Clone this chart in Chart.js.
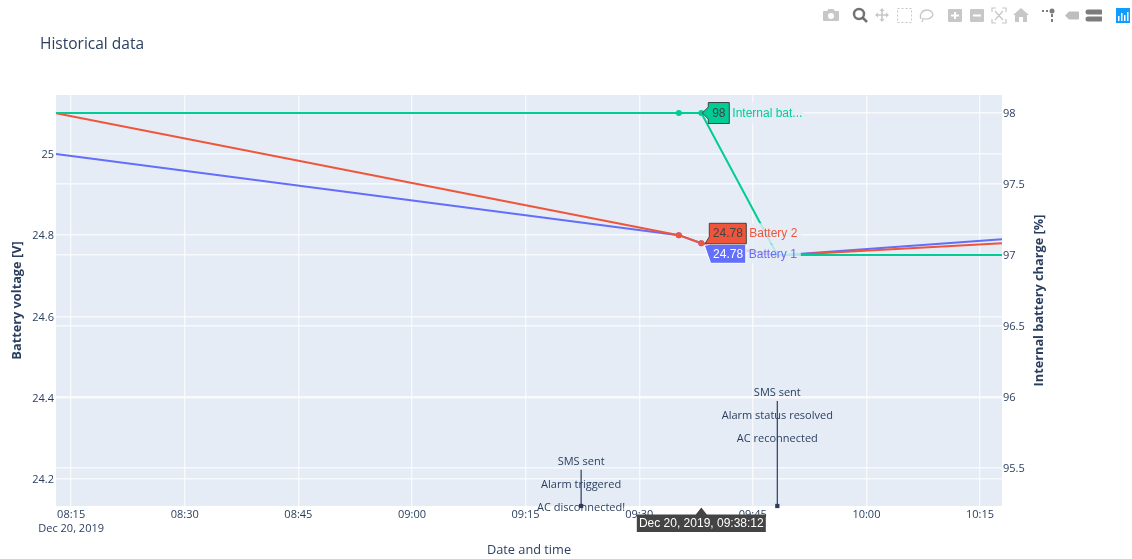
<!DOCTYPE html>
<html>
<head>
<meta charset="utf-8">
<title>Historical data</title>
<script src="https://cdn.jsdelivr.net/npm/chart.js@4"></script>
<style>
  html, body { margin: 0; padding: 0; background: #fff; overflow: hidden; }
  #wrap { position: relative; width: 1132px; height: 559px; }
  #modebar { position: absolute; left: 0; top: 0; }
</style>
</head>
<body>
<div id="wrap">
  <canvas id="historyChart" width="1132" height="559"></canvas>
  <svg id="modebar" width="1132" height="32" fill="#444" fill-opacity="0.3">
    <path d="M824 11h3l1.500-2h5l1.500 2h3a1 1 0 0 1 1 1v8a1 1 0 0 1-1 1h-14a1 1 0 0 1-1-1v-8a1 1 0 0 1 1-1zm7 2a3 3 0 1 0 0 6a3 3 0 0 0 0-6z" fill-rule="evenodd"/>
    <g fill="none" stroke="#444" stroke-opacity="0.75" stroke-width="2.500"><circle cx="859" cy="14" r="5"/><path d="M863 18l4 4"/></g>
    <path d="M882 8l2.500 3h-1.700v3.200h3.200v-1.700l3 2.500l-3 2.500v-1.700h-3.200v3.200h1.700l-2.500 3l-2.500-3h1.700v-3.200h-3.200v1.700l-3-2.500l3-2.500v1.700h3.200v-3.200h-1.700z"/>
    <rect x="897.500" y="8.500" width="14" height="14" fill="none" stroke="#444" stroke-opacity="0.3" stroke-dasharray="2 2"/>
    <path d="M921 19c-2-4 1-9 6-9s7 4 5 6.500s-6 3-9 2c0 1-.5 2.500-1 3.500" fill="none" stroke="#444" stroke-opacity="0.3" stroke-width="1.300"/>
    <path d="M949 9h12a1 1 0 0 1 1 1v11a1 1 0 0 1-1 1h-12a1 1 0 0 1-1-1v-11a1 1 0 0 1 1-1zm5 3v2.500h-3v2h3v2.500h2v-2.500h3v-2h-3v-2.500z" fill-rule="evenodd"/>
    <path d="M971 9h12a1 1 0 0 1 1 1v11a1 1 0 0 1-1 1h-12a1 1 0 0 1-1-1v-11a1 1 0 0 1 1-1zm2 5.500v2h8v-2z" fill-rule="evenodd"/>
    <g fill="none" stroke="#444" stroke-opacity="0.3" stroke-width="1.200"><path d="M992 12v-4h4M1002 8h4v4M1006 19v4h-4M996 23h-4v-4M995 11l8 9M1003 11l-8 9"/></g>
    <path d="M1021 8l8 7h-2v7h-4v-5h-4v5h-4v-7h-2z"/>
    <g fill-opacity="0.7"><circle cx="1052" cy="11" r="2.500"/><rect x="1051" y="14" width="2" height="3"/><rect x="1051" y="19" width="2" height="3"/><rect x="1042" y="10" width="2" height="2"/><rect x="1046" y="10" width="2" height="2"/></g>
    <path d="M1065 15.500l4-4h9a1 1 0 0 1 1 1v6a1 1 0 0 1-1 1h-9z" fill-opacity="0.35"/>
    <g fill-opacity="0.7"><path d="M1088 9.500h13a1 1 0 0 1 1 1v4h-14a2.500 2.500 0 0 1 0-5z"/><path d="M1088 16.500h14v4a1 1 0 0 1-1 1h-13a2.500 2.500 0 0 1 0-5z"/></g>
    <rect x="1116" y="8" width="14" height="15" fill="#119DFF" fill-opacity="1"/>
    <g fill="#fff" fill-opacity="1"><rect x="1118" y="16" width="1.500" height="5"/><rect x="1121" y="13" width="1.500" height="8"/><rect x="1124" y="15" width="1.500" height="6"/><rect x="1127" y="12" width="1.500" height="9"/></g>
  </svg>
</div>
<script>
const times = ['08:13:00', '09:35:14', '09:38:12', '09:48:14', '10:17:54'];
const battery1 = [25.0, 24.8, 24.78, 24.75, 24.79];
const battery2 = [25.1, 24.8, 24.78, 24.75, 24.78];
const internalCharge = [98, 98, 98, 97, 97];

const xTickTimes = ['08:15', '08:30', '08:45', '09:00', '09:15', '09:30', '09:45', '10:00', '10:15'];
const voltageTicks = [24.2, 24.4, 24.6, 24.8, 25];
const chargeTicks = [95.5, 96, 96.5, 97, 97.5, 98];

const alarmEvents = [
  { time: '09:22:20', top: 24.223, lines: ['SMS sent', 'Alarm triggered', 'AC disconnected!'] },
  { time: '09:48:14', top: 24.392, lines: ['SMS sent', 'Alarm status resolved', 'AC reconnected'] },
];

const X_START = '08:13:00';
const X_END = '10:17:54';
const VOLT_MIN = 24.1335;
const VOLT_MAX = 25.145;
const HOVER_INDEX = 2;
const HOVER_STAMP = 'Dec 20, 2019, 09:38:12';

const INK = '#2a3f5f';
const PLOT_BG = '#E5ECF6';
const BLUE = '#636EFA';
const RED = '#EF553B';
const TEAL = '#00CC96';
const UI_FONT = '"Open Sans", sans-serif';
const HOVER_FONT = '12px "Liberation Sans", Arial, sans-serif';

function toSeconds(t) {
  const parts = t.split(':').map(Number);
  return parts[0] * 3600 + parts[1] * 60 + (parts[2] || 0);
}

function fmtClock(sec) {
  const h = Math.floor(sec / 3600);
  const m = Math.floor(sec / 60) % 60;
  return String(h).padStart(2, '0') + ':' + String(m).padStart(2, '0');
}

function toPoints(values) {
  return values.map((v, i) => ({ x: toSeconds(times[i]), y: v }));
}

function lineSeries(label, values, color, yAxisID, order) {
  return {
    label,
    data: toPoints(values),
    borderColor: color,
    backgroundColor: color,
    borderWidth: 2,
    yAxisID,
    order,
    tension: 0,
    pointHoverRadius: 0,
    pointBorderWidth: 0,
    // plotly only shows dots on the two samples around the hover
    pointRadius: c => (c.dataIndex === 1 || c.dataIndex === 2 ? 3 : 0),
  };
}

function eventSeries(ev) {
  return {
    label: ev.lines[2],
    data: [{ x: toSeconds(ev.time), y: ev.top }, { x: toSeconds(ev.time), y: VOLT_MIN }],
    borderColor: INK,
    backgroundColor: INK,
    borderWidth: 1.2,
    yAxisID: 'y',
    order: 0,
    clip: false,
    pointStyle: 'rect',
    pointBorderWidth: 0,
    pointRadius: c => (c.dataIndex === 1 ? 3 : 0),
  };
}

const plotBgPlugin = {
  id: 'plotBg',
  beforeDraw(chart) {
    const { ctx, chartArea: a } = chart;
    ctx.save();
    ctx.fillStyle = PLOT_BG;
    ctx.fillRect(a.left, a.top, a.right - a.left, a.bottom - a.top);
    ctx.restore();
  },
};

function hoverLabel(ctx, tipX, tipY, box, fill, stroke, textColor, value, name, nameColor) {
  // pale box behind the series name
  ctx.globalAlpha = 0.8;
  ctx.fillStyle = PLOT_BG;
  ctx.fillRect(box.right, box.top, box.nameWidth, box.bottom - box.top);
  ctx.globalAlpha = 1;

  ctx.beginPath();
  ctx.moveTo(tipX, tipY);
  ctx.lineTo(box.left, box.pointerA);
  ctx.lineTo(box.left, box.top);
  ctx.lineTo(box.right, box.top);
  ctx.lineTo(box.right, box.bottom);
  ctx.lineTo(box.left, box.bottom);
  ctx.lineTo(box.left, box.pointerB);
  ctx.closePath();
  ctx.fillStyle = fill;
  ctx.fill();
  ctx.lineWidth = 1;
  ctx.strokeStyle = stroke;
  ctx.stroke();

  const midY = (box.top + box.bottom) / 2 + 0.5;
  ctx.font = HOVER_FONT;
  ctx.textBaseline = 'middle';
  ctx.textAlign = 'center';
  ctx.fillStyle = textColor;
  ctx.fillText(value, (box.left + box.right) / 2, midY);
  ctx.textAlign = 'left';
  ctx.fillStyle = nameColor;
  ctx.fillText(name, box.right + 3, midY);
}

const overlayPlugin = {
  id: 'overlay',
  afterDraw(chart) {
    const { ctx, scales, chartArea } = chart;
    const x = scales.x;
    ctx.save();

    // chart title and right axis title
    ctx.fillStyle = INK;
    ctx.font = '15.5px ' + UI_FONT;
    ctx.textAlign = 'left';
    ctx.textBaseline = 'alphabetic';
    ctx.fillText('Historical data', 40, 49);

    ctx.save();
    ctx.translate(1039.5, (chartArea.top + chartArea.bottom) / 2);
    ctx.rotate(-Math.PI / 2);
    ctx.font = 'bold 12.75px ' + UI_FONT;
    ctx.textAlign = 'center';
    ctx.textBaseline = 'middle';
    ctx.fillText('Internal battery charge [%]', 0, 0);
    ctx.restore();

    // event annotations
    ctx.font = '11px ' + UI_FONT;
    ctx.textAlign = 'center';
    ctx.textBaseline = 'middle';
    ctx.fillStyle = INK;
    alarmEvents.forEach(ev => {
      const px = x.getPixelForValue(toSeconds(ev.time));
      const topPx = scales.y.getPixelForValue(ev.top);
      ev.lines.forEach((line, i) => {
        ctx.fillText(line, px, topPx - 8 + i * 23);
      });
    });

    // hover labels
    const hx = x.getPixelForValue(toSeconds(times[HOVER_INDEX]));
    const tealY = scales.y1.getPixelForValue(internalCharge[HOVER_INDEX]);
    const batY = scales.y.getPixelForValue(battery1[HOVER_INDEX]);

    hoverLabel(ctx, hx + 1, tealY,
      { left: hx + 7, right: hx + 28, top: tealY - 10.5, bottom: tealY + 10.5, pointerA: tealY - 6, pointerB: tealY + 6, nameWidth: 74 },
      TEAL, '#444', '#444', String(internalCharge[HOVER_INDEX]), 'Internal bat...', TEAL);
    hoverLabel(ctx, hx + 3, batY + 2,
      { left: hx + 9, right: hx + 44.5, top: batY + 1, bottom: batY + 20, pointerA: batY + 1, pointerB: batY + 19, nameWidth: 55 },
      BLUE, '#fff', '#fff', battery1[HOVER_INDEX].toFixed(2), 'Battery 1', BLUE);
    hoverLabel(ctx, hx + 4, batY,
      { left: hx + 8, right: hx + 45, top: batY - 20, bottom: batY + 0.5, pointerA: batY - 6.5, pointerB: batY + 0.5, nameWidth: 55 },
      RED, '#444', '#444', battery2[HOVER_INDEX].toFixed(2), 'Battery 2', RED);

    // time label under the axis
    const tipY = chartArea.bottom + 1.5;
    const boxTop = tipY + 7;
    const boxBottom = boxTop + 17.5;
    ctx.beginPath();
    ctx.moveTo(hx, tipY);
    ctx.lineTo(hx + 5.5, boxTop);
    ctx.lineTo(hx + 64.5, boxTop);
    ctx.lineTo(hx + 64.5, boxBottom);
    ctx.lineTo(hx - 64.5, boxBottom);
    ctx.lineTo(hx - 64.5, boxTop);
    ctx.lineTo(hx - 5.5, boxTop);
    ctx.closePath();
    ctx.fillStyle = '#444';
    ctx.fill();
    ctx.font = HOVER_FONT;
    ctx.textAlign = 'center';
    ctx.textBaseline = 'middle';
    ctx.fillStyle = '#fff';
    ctx.fillText(HOVER_STAMP, hx, (boxTop + boxBottom) / 2 + 0.5);

    ctx.restore();
  },
};

const tickFont = { family: UI_FONT, size: 11, lineHeight: 1.27 };
const gridOpts = { color: 'rgba(255,255,255,0.7)', lineWidth: 1.4, drawTicks: false };

new Chart(document.getElementById('historyChart').getContext('2d'), {
  type: 'line',
  data: {
    datasets: [
      lineSeries('Battery 1', battery1, BLUE, 'y', 3),
      lineSeries('Battery 2', battery2, RED, 'y', 2),
      lineSeries('Internal battery charge', internalCharge, TEAL, 'y1', 1),
      ...alarmEvents.map(eventSeries),
    ],
  },
  options: {
    responsive: false,
    animation: false,
    events: [],
    layout: { autoPadding: false, padding: { top: 95 } },
    plugins: { legend: { display: false }, tooltip: { enabled: false } },
    scales: {
      x: {
        type: 'linear',
        min: toSeconds(X_START),
        max: toSeconds(X_END),
        afterFit: s => { s.height = 53; },
        afterBuildTicks: s => { s.ticks = xTickTimes.map(t => ({ value: toSeconds(t) })); },
        grid: gridOpts,
        border: { display: false },
        ticks: {
          autoSkip: false,
          maxRotation: 0,
          padding: 2,
          color: INK,
          font: tickFont,
          callback: (v, i) => (i === 0 ? [fmtClock(v), 'Dec 20, 2019'] : fmtClock(v)),
        },
        title: { display: true, text: 'Date and time', color: INK, font: { family: UI_FONT, size: 12.75 }, padding: { top: 0, bottom: 1 } },
      },
      y: {
        type: 'linear',
        position: 'left',
        min: VOLT_MIN,
        max: VOLT_MAX,
        afterFit: s => { s.width = 56; },
        afterBuildTicks: s => { s.ticks = voltageTicks.map(v => ({ value: v })); },
        grid: gridOpts,
        border: { display: false },
        ticks: { padding: 2, labelOffset: 1, color: INK, font: tickFont, callback: v => String(v) },
        title: { display: true, text: 'Battery voltage [V]', color: INK, font: { family: UI_FONT, size: 12.75, weight: 'bold' }, padding: { top: 10, bottom: 0 } },
      },
      y1: {
        type: 'linear',
        position: 'right',
        min: 95.232,
        max: 98.127,
        afterFit: s => { s.width = 130; },
        afterBuildTicks: s => { s.ticks = chargeTicks.map(v => ({ value: v })); },
        grid: gridOpts,
        border: { display: false },
        ticks: { padding: 1, labelOffset: 1, color: INK, font: tickFont, callback: v => String(v) },
      },
    },
  },
  plugins: [plotBgPlugin, overlayPlugin],
});
</script>
</body>
</html>
